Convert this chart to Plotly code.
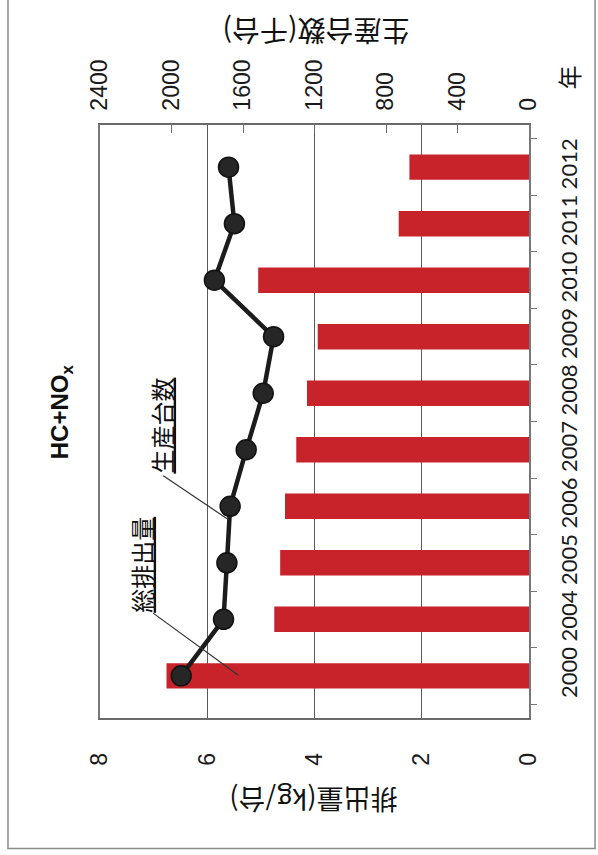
import plotly.graph_objects as go

# Motorcycle HC+NOx: emission per unit (bars) and production volume (line)
years = ["2000", "2004", "2005", "2006", "2007", "2008", "2009", "2010", "2011", "2012"]
emission_kg_per_unit = [6.76, 4.75, 4.64, 4.55, 4.34, 4.14, 3.94, 5.05, 2.43, 2.23]
production_thousand = [1946, 1709, 1690, 1672, 1582, 1487, 1429, 1760, 1648, 1681]

emission_ticks = [0, 2, 4, 6, 8]
production_ticks = [0, 400, 800, 1200, 1600, 2000, 2400]

BAR_RED = "#C8232B"
LINE_BLACK = "#1c1c1c"
NUM_FONT = "Liberation Sans"
YEAR_FONT = "Lato"
JP_FONT = "Noto Sans CJK JP"

fig = go.Figure()

fig.add_trace(go.Bar(
    x=emission_kg_per_unit, y=years, orientation="h",
    xaxis="x", yaxis="y", width=0.45,
    marker=dict(color=BAR_RED, line=dict(width=0)),
    name="排出量",
))

fig.add_trace(go.Scatter(
    x=production_thousand, y=years,
    xaxis="x2", yaxis="y", mode="lines+markers",
    line=dict(color=LINE_BLACK, width=4.5),
    marker=dict(size=20, color="#262626", line=dict(color="#111", width=1.5)),
    name="生産台数",
))

grid_col = "#5a5a5a"

fig.update_layout(
    width=598, height=855,
    margin=dict(l=100, r=69, t=125, b=137),
    paper_bgcolor="white", plot_bgcolor="white",
    showlegend=False,
    xaxis=dict(
        range=[8, 0], tickvals=emission_ticks,
        tickangle=-90, side="bottom",
        showgrid=True, gridcolor=grid_col, gridwidth=1.2,
        zeroline=False, showline=True, linecolor="#6a6a6a", linewidth=1.5,
        ticks="", ticklabelstandoff=24,
        tickfont=dict(family=NUM_FONT, size=23, color="#1a1a1a"),
    ),
    xaxis2=dict(
        overlaying="x", side="top", range=[2400, 0], tickvals=production_ticks,
        tickangle=-90, showgrid=False, zeroline=False,
        showline=True, linecolor="#6a6a6a", linewidth=1.5,
        ticks="inside", ticklen=8, tickcolor="#6a6a6a", tickwidth=1.2,
        ticklabelstandoff=8,
        tickfont=dict(family=NUM_FONT, size=23, color="#1a1a1a"),
    ),
    yaxis=dict(
        type="category", side="right", tickangle=-90,
        showline=True, linecolor="#777", linewidth=2, mirror=True,
        ticks="outside", tickson="boundaries", ticklen=6, tickcolor="#777",
        showgrid=False, zeroline=False, ticklabelstandoff=20,
        tickfont=dict(family=YEAR_FONT, size=22, color="#1a1a1a"),
    ),
)

# Outer frame of the figure
fig.add_shape(type="rect", xref="paper", yref="paper",
              x0=-0.2145, x1=1.154, y0=-0.22, y1=1.225,
              line=dict(color="#8a8a8a", width=1.5), layer="below")

# Leader lines from the labels to the series
fig.add_shape(type="line", xref="x", yref="y",
              x0=6.82, y0=3.54, x1=5.63, y1=2.78,
              line=dict(color="#333", width=1.2))
fig.add_shape(type="line", xref="x", yref="y",
              x0=7.01, y0=1.11, x1=5.42, y1=0.01,
              line=dict(color="#333", width=1.2))

centered = dict(showarrow=False, xanchor="center", yanchor="middle")
annotations = [
    # chart title
    dict(text="<b>HC+NO<sub>x</sub></b>", xref="paper", yref="paper",
         x=-0.089, y=0.517, textangle=-90,
         font=dict(family=NUM_FONT, size=24, color="#111"), **centered),
    # axis titles
    dict(text="生産台数(千台)", xref="paper", yref="paper",
         x=0.503, y=1.158, textangle=180,
         font=dict(family=JP_FONT, size=28, color="#111"), **centered),
    dict(text="排出量(kg/台)", xref="paper", yref="paper",
         x=0.497, y=-0.139, textangle=180,
         font=dict(family=JP_FONT, size=27, color="#111"), **centered),
    dict(text="年", xref="paper", yref="paper",
         x=1.093, y=1.08, textangle=-90,
         font=dict(family=JP_FONT, size=24, color="#111"), **centered),
    # series labels
    dict(text="<u>生産台数</u>", xref="x", yref="y",
         x=6.86, y=4.43, textangle=-90,
         font=dict(family=JP_FONT, size=24, color="#111"), **centered),
    dict(text="<u>総排出量</u>", xref="x", yref="y",
         x=7.24, y=1.96, textangle=-90,
         font=dict(family=JP_FONT, size=24, color="#111"), **centered),
]
fig.update_layout(annotations=annotations)

fig.write_html("out.html")
